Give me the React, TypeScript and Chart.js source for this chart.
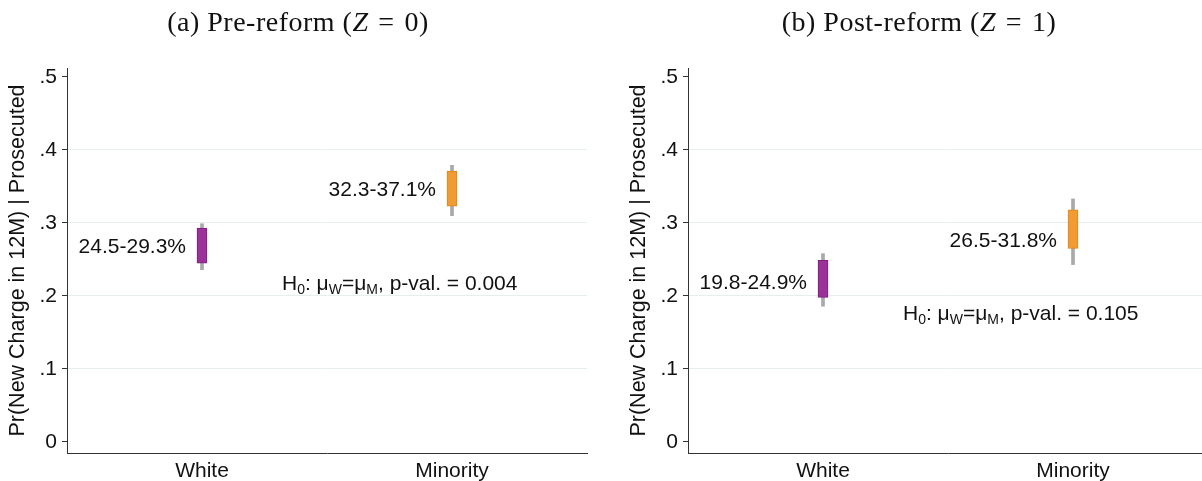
import React, { useEffect, useRef } from "react";
import { Chart, registerables } from "chart.js";

Chart.register(...registerables);

// ---------- data ----------
const categories = ["White", "Minority"];
const categoryPositions = [1, 2];
const yTickValues = [0, 0.1, 0.2, 0.3, 0.4, 0.5];
const yTickLabels = ["0", ".1", ".2", ".3", ".4", ".5"];
const yAxisTitle = "Pr(New Charge in 12M) | Prosecuted";

const preTitle = ["(a) Pre-reform (", "Z", "\u2004=\u20040)"];
const preBoxLow = [0.245, 0.323];
const preBoxHigh = [0.293, 0.371];
const preWhiskerLow = [0.236, 0.31];
const preWhiskerHigh = [0.299, 0.379];
const preRangeLabels = ["24.5-29.3%", "32.3-37.1%"];
const preRangeLabelAt = [0.267, 0.345];
const prePValue = "0.004";
const preTestAt = [1.32, 0.218];

const postTitle = ["(b) Post-reform (", "Z", "\u2004=\u20041)"];
const postBoxLow = [0.198, 0.265];
const postBoxHigh = [0.249, 0.318];
const postWhiskerLow = [0.186, 0.243];
const postWhiskerHigh = [0.258, 0.333];
const postRangeLabels = ["19.8-24.9%", "26.5-31.8%"];
const postRangeLabelAt = [0.218, 0.275];
const postPValue = "0.105";
const postTestAt = [1.32, 0.177];

const boxFill = ["#9a3299", "#f09b33"];
const boxEdge = ["#7f1c7f", "#e5840f"];
const whiskerColor = "#a9a9a9";

const SANS = "'Liberation Sans', Arial, Helvetica, sans-serif";
const SERIF = "'Liberation Serif', 'Times New Roman', serif";

const annotPlugin = {
  id: "annot",
  afterDatasetsDraw(chart: any, _args: any, opts: any) {
    const { ctx } = chart;
    const x = chart.scales.x;
    const y = chart.scales.y;
    ctx.save();
    ctx.fillStyle = "#111";
    ctx.font = `21px ${SANS}`;
    ctx.textAlign = "right";
    ctx.textBaseline = "middle";
    opts.labels.forEach((t: string, i: number) => {
      ctx.fillText(t, x.getPixelForValue(opts.positions[i]) - 16, y.getPixelForValue(opts.labelAt[i]));
    });
    // hypothesis test text
    let px = x.getPixelForValue(opts.testAt[0]);
    const py = y.getPixelForValue(opts.testAt[1]) + 7;
    ctx.textAlign = "left";
    ctx.textBaseline = "alphabetic";
    const parts: [string, boolean][] = [
      ["H", false],
      ["0", true],
      [": \u03bc", false],
      ["W", true],
      ["=\u03bc", false],
      ["M", true],
      [", p-val. = " + opts.pValue, false],
    ];
    parts.forEach(([t, sub]) => {
      ctx.font = sub ? `14px ${SANS}` : `21px ${SANS}`;
      ctx.fillText(t, px, py + (sub ? 4 : 0));
      px += ctx.measureText(t).width;
    });
    ctx.restore();
  },
  afterDraw(chart: any, _args: any, opts: any) {
    const { ctx } = chart;
    ctx.save();
    ctx.fillStyle = "#111";
    ctx.textBaseline = "middle";
    ctx.textAlign = "left";
    try {
      (ctx as any).letterSpacing = "0.5px";
    } catch (e) {}
    const size = 28;
    const fonts = [`${size}px ${SERIF}`, `italic ${size}px ${SERIF}`, `${size}px ${SERIF}`];
    let total = 0;
    const widths = opts.title.map((t: string, i: number) => {
      ctx.font = fonts[i];
      const w = ctx.measureText(t).width;
      total += w;
      return w;
    });
    let px = 298 - total / 2;
    opts.title.forEach((t: string, i: number) => {
      ctx.font = fonts[i];
      ctx.fillText(t, px, 24);
      px += widths[i];
    });
    ctx.restore();
  },
};

type PanelProps = {
  title: string[];
  boxLow: number[];
  boxHigh: number[];
  whiskerLow: number[];
  whiskerHigh: number[];
  rangeLabels: string[];
  rangeLabelAt: number[];
  pValue: string;
  testAt: number[];
  left: number;
};

function Panel(p: PanelProps) {
  const ref = useRef<HTMLCanvasElement | null>(null);
  useEffect(() => {
    if (!ref.current) return;
    const chart = new Chart(ref.current, {
      type: "bar",
      data: {
        datasets: [
          {
            label: "box",
            data: categoryPositions.map((c, i) => ({ x: c, y: [p.boxLow[i], p.boxHigh[i]] })) as any,
            backgroundColor: boxFill,
            borderColor: boxEdge,
            borderWidth: 1,
            borderSkipped: false,
            barThickness: 10,
            grouped: false,
            order: 0,
          },
          {
            label: "whisker",
            data: categoryPositions.map((c, i) => ({ x: c, y: [p.whiskerLow[i], p.whiskerHigh[i]] })) as any,
            backgroundColor: whiskerColor,
            borderWidth: 0,
            barThickness: 3,
            grouped: false,
            order: 1,
          },
        ],
      },
      options: {
        responsive: false,
        animation: false,
        devicePixelRatio: 1,
        layout: { padding: { top: 68, right: 13, left: 0, bottom: 0 } },
        plugins: {
          legend: { display: false },
          tooltip: { enabled: false },
          annot: {
            labels: p.rangeLabels,
            labelAt: p.rangeLabelAt,
            positions: categoryPositions,
            pValue: p.pValue,
            testAt: p.testAt,
            title: p.title,
          },
        } as any,
        scales: {
          x: {
            type: "linear",
            min: 0.46,
            max: 2.54,
            offset: false,
            afterBuildTicks: (s: any) => {
              s.ticks = categoryPositions.map((v) => ({ value: v }));
            },
            afterFit: (s: any) => {
              s.height = 28;
            },
            ticks: {
              callback: (v: any) => categories[categoryPositions.indexOf(Number(v))] ?? "",
              color: "#111",
              font: { family: SANS, size: 21 },
              padding: 6,
              maxRotation: 0,
              autoSkip: false,
            },
            grid: { display: false, drawTicks: false, offset: false },
            border: { display: true, color: "#333", width: 1 },
          },
          y: {
            type: "linear",
            min: -0.0151,
            max: 0.5123,
            afterBuildTicks: (s: any) => {
              s.ticks = yTickValues.map((v) => ({ value: v }));
            },
            afterFit: (s: any) => {
              s.width = 67;
            },
            ticks: {
              callback: (v: any) => yTickLabels[yTickValues.indexOf(Number(v))] ?? "",
              color: "#111",
              font: { family: SANS, size: 21 },
              padding: 5,
              autoSkip: false,
            },
            grid: {
              color: (c: any) =>
                c.tick && (c.tick.value === 0 || c.tick.value === 0.5) ? "rgba(0,0,0,0)" : "#e6eff0",
              tickColor: "#333",
              tickLength: 5,
              lineWidth: 1,
            },
            border: { display: true, color: "#333", width: 1 },
            title: {
              display: true,
              text: yAxisTitle,
              color: "#111",
              font: { family: SANS, size: 21.5 },
              padding: { top: 5, bottom: 0 },
            },
          },
        },
      },
      plugins: [annotPlugin as any],
    });
    return () => chart.destroy();
  }, []);
  return (
    <canvas
      ref={ref}
      width={600}
      height={481}
      style={{ position: "absolute", left: p.left, top: 0, width: 600, height: 481 }}
    />
  );
}

export default function App() {
  return (
    <div
      style={{
        position: "fixed",
        left: 0,
        top: 0,
        width: 1202,
        height: 481,
        overflow: "hidden",
        background: "#fff",
      }}
    >
      <Panel
        title={preTitle}
        boxLow={preBoxLow}
        boxHigh={preBoxHigh}
        whiskerLow={preWhiskerLow}
        whiskerHigh={preWhiskerHigh}
        rangeLabels={preRangeLabels}
        rangeLabelAt={preRangeLabelAt}
        pValue={prePValue}
        testAt={preTestAt}
        left={0}
      />
      <Panel
        title={postTitle}
        boxLow={postBoxLow}
        boxHigh={postBoxHigh}
        whiskerLow={postWhiskerLow}
        whiskerHigh={postWhiskerHigh}
        rangeLabels={postRangeLabels}
        rangeLabelAt={postRangeLabelAt}
        pValue={postPValue}
        testAt={postTestAt}
        left={621}
      />
    </div>
  );
}
